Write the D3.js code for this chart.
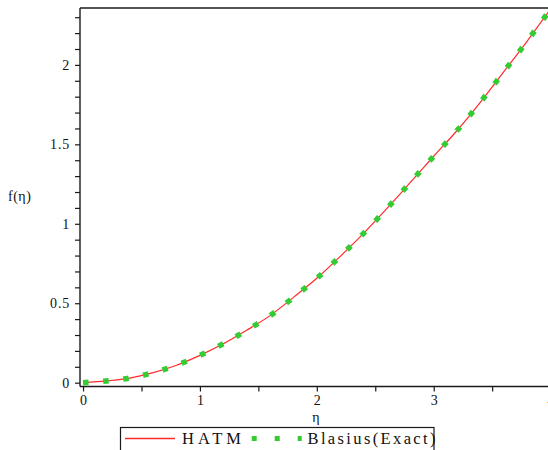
<!DOCTYPE html>
<html>
<head>
<meta charset="utf-8">
<script src="https://cdn.jsdelivr.net/npm/d3@7"></script>
<style>
  html, body { margin: 0; padding: 0; background: #fff; }
  svg { display: block; }
</style>
</head>
<body>
<svg id="chart" width="548" height="450" font-family="Liberation Serif"></svg>
<script>
// Similarity variable eta and the stream function f(eta)
const eta    = [0, 0.2, 0.4, 0.6, 0.8, 1.0, 1.2, 1.4, 1.6, 1.8, 2.0,
                2.2, 2.4, 2.6, 2.8, 3.0, 3.2, 3.4, 3.6, 3.8, 4.0];
const fHatm  = [0, 0.011, 0.029, 0.063, 0.110, 0.172, 0.245, 0.330, 0.422, 0.537, 0.657,
                0.795, 0.940, 1.097, 1.260, 1.425, 1.587, 1.766, 1.957, 2.150, 2.352];
const fExact = [0, 0.011, 0.029, 0.063, 0.110, 0.172, 0.245, 0.330, 0.422, 0.537, 0.657,
                0.795, 0.940, 1.097, 1.260, 1.425, 1.587, 1.766, 1.957, 2.150, 2.352];

const xTickValues = [0, 0.5, 1, 1.5, 2, 2.5, 3, 3.5, 4];
const xTickLabels = ["0", "", "1", "", "2", "", "3", "", "4"];
const yTickValues = d3.range(0, 24).map(i => +(i * 0.1).toFixed(1));
const yTickLabels = { "0": "0", "0.5": "0.5", "1": "1", "1.5": "1.5", "2": "2" };

const seriesNames = ["HATM", "Blasius(Exact)"];

const svg = d3.select("#chart");

const plotL = 80, plotR = 550.6, plotT = 8, plotB = 386.5;
const x = d3.scaleLinear().domain([-0.026, 4.0]).range([plotL, plotR]);
const y = d3.scaleLinear().domain([-0.024, 2.358]).range([plotB, plotT]);

const ink = "#1a1a1a";
const serif = '"Liberation Serif", monospace';

// frame: top edge
svg.append("line")
  .attr("x1", plotL).attr("x2", plotR).attr("y1", plotT).attr("y2", plotT)
  .attr("stroke", ink).attr("stroke-width", 1.4);

// y axis
const yAxis = d3.axisLeft(y)
  .tickValues(yTickValues)
  .tickSize(5)
  .tickPadding(5)
  .tickFormat(d => yTickLabels[String(d)] || "");
const gy = svg.append("g").attr("transform", `translate(${plotL},0)`).call(yAxis)
  .attr("font-family", serif);
gy.select(".domain").attr("d", `M0,${plotT}V${plotB}`).attr("stroke", ink).attr("stroke-width", 1.4);
gy.selectAll(".tick line").attr("stroke", ink).attr("stroke-width", 1.2);
gy.selectAll(".tick text").attr("font-size", 14).style("letter-spacing", "0.8px");

// x axis
const xAxis = d3.axisBottom(x)
  .tickValues(xTickValues)
  .tickSize(5)
  .tickPadding(4)
  .tickFormat((d, i) => xTickLabels[i]);
const gx = svg.append("g").attr("transform", `translate(0,${plotB})`).call(xAxis)
  .attr("font-family", serif);
gx.select(".domain").attr("d", `M${plotL},0H${plotR}`).attr("stroke", ink).attr("stroke-width", 1.4);
gx.selectAll(".tick line").attr("stroke", ink).attr("stroke-width", 1.2);
gx.selectAll(".tick text").attr("font-size", 14);

// axis titles
svg.append("text").attr("x", 316).attr("y", 421.5).attr("text-anchor", "middle")
  .attr("font-size", 14).text("η");
svg.append("text").attr("x", 8).attr("y", 201)
  .attr("font-size", 14).style("letter-spacing", "0.5px").text("f(η)");

// curves
const line = vals => d3.line()
  .x((d, i) => x(eta[i]))
  .y(d => y(d))
  .curve(d3.curveMonotoneX)(vals);

svg.append("path").attr("d", line(fHatm))
  .attr("fill", "none").attr("stroke", "#ff2a2a").attr("stroke-width", 1.2);

svg.append("path").attr("d", line(fExact))
  .attr("fill", "none").attr("stroke", "#33cc33").attr("stroke-width", 5.5)
  .attr("stroke-dasharray", "5.5 14.7");

// legend
const lg = svg.append("g");
lg.append("rect").attr("x", 120.5).attr("y", 427.5).attr("width", 313.5).attr("height", 26)
  .attr("fill", "#fff").attr("stroke", ink).attr("stroke-width", 1.2);
lg.append("line").attr("x1", 125).attr("x2", 175).attr("y1", 438.5).attr("y2", 438.5)
  .attr("stroke", "#ff2a2a").attr("stroke-width", 1.3);
lg.append("text").attr("x", 182).attr("y", 443.5)
  .attr("textLength", 59).attr("lengthAdjust", "spacing")
  .attr("font-size", 16.5).text(seriesNames[0]);
lg.append("line").attr("x1", 251.7).attr("x2", 301.7).attr("y1", 438.5).attr("y2", 438.5)
  .attr("stroke", "#33cc33").attr("stroke-width", 5).attr("stroke-dasharray", "5 18");
lg.append("text").attr("x", 307.5).attr("y", 443.5)
  .attr("textLength", 128).attr("lengthAdjust", "spacing")
  .attr("font-size", 16.5).text(seriesNames[1]);

// every label in Times-style serif
svg.selectAll("text").attr("font-family", serif).attr("fill", "#111");
</script>
</body>
</html>
